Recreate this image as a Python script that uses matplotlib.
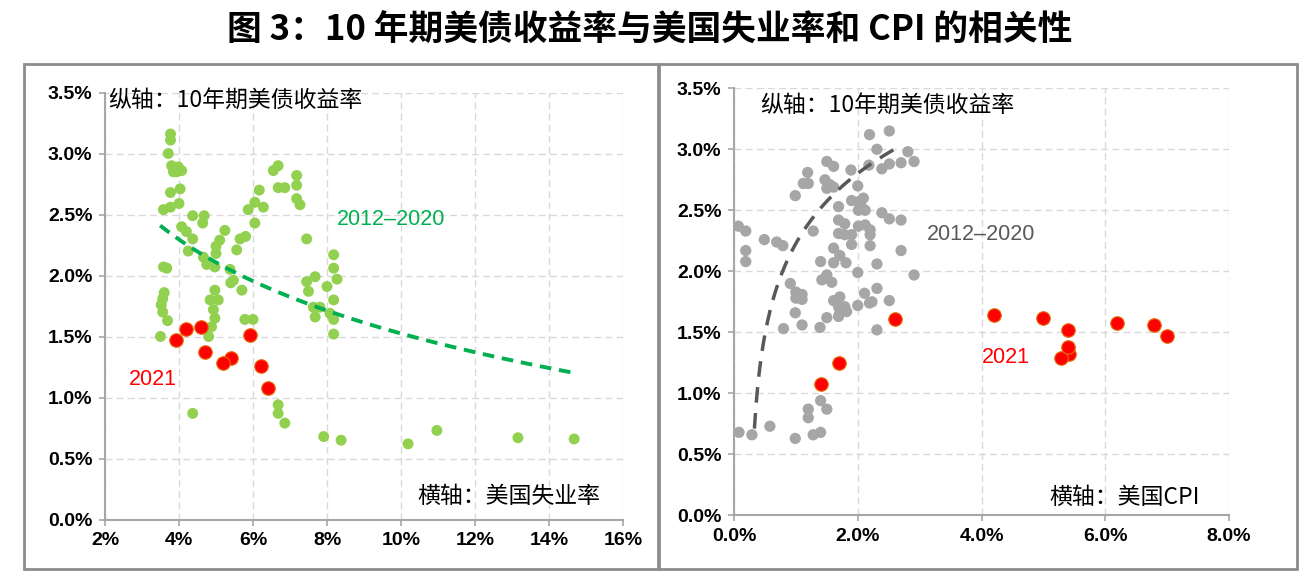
import numpy as np
import matplotlib
matplotlib.use("Agg")
import matplotlib.pyplot as plt
from matplotlib.patches import Rectangle
from matplotlib.ticker import FuncFormatter, MultipleLocator

plt.rcParams['font.family'] = ['Noto Sans CJK SC', 'DejaVu Sans']

# ---------------- data ----------------
# Left: unemployment rate (%) vs 10Y yield (%), 2012-2020
unemp_hist_x = [3.77, 3.77, 3.71, 3.80, 3.89, 3.98, 4.07, 3.85, 3.94, 4.03, 3.77, 3.77, 4.00, 3.58,
                4.37, 4.68, 4.64, 4.07, 4.20, 4.37, 4.25, 4.66, 4.75, 4.97, 5.00, 5.00, 5.10, 5.24,
                5.56, 5.65, 5.80, 5.38, 5.47, 5.40, 5.70, 5.87, 6.05, 6.17, 6.28, 6.05, 6.55, 6.68,
                6.68, 6.86, 7.18, 7.18, 7.18, 7.27, 7.45, 8.18, 8.18, 8.27, 8.00, 8.18, 8.18, 8.18,
                7.45, 7.68, 7.50, 7.63, 7.81, 7.68, 8.08, 3.58, 3.67, 3.60, 3.56, 3.52, 3.56, 3.69,
                3.50, 4.97, 4.84, 5.06, 4.93, 4.97, 4.88, 4.80, 5.78, 6.00, 4.37, 6.68, 6.68, 6.86,
                7.91, 8.38, 10.19, 10.97, 13.16, 14.68]
unemp_hist_y = [3.16, 3.11, 3.00, 2.90, 2.86, 2.89, 2.86, 2.85, 2.85, 2.71, 2.68, 2.56, 2.59, 2.54,
                2.49, 2.49, 2.43, 2.40, 2.36, 2.30, 2.20, 2.15, 2.09, 2.07, 2.18, 2.24, 2.29, 2.37,
                2.21, 2.30, 2.32, 2.05, 1.96, 1.94, 1.88, 2.54, 2.60, 2.70, 2.56, 2.43, 2.86, 2.90,
                2.72, 2.72, 2.82, 2.74, 2.63, 2.58, 2.30, 2.17, 2.06, 1.97, 1.91, 1.80, 1.64, 1.52,
                1.95, 1.99, 1.87, 1.74, 1.74, 1.66, 1.69, 2.07, 2.06, 1.86, 1.81, 1.76, 1.70, 1.63,
                1.50, 1.88, 1.80, 1.80, 1.72, 1.65, 1.58, 1.50, 1.64, 1.64, 0.87, 0.94, 0.87, 0.79,
                0.68, 0.65, 0.62, 0.73, 0.67, 0.66]
# 2021
unemp_2021_x = [6.40, 6.21, 5.92, 5.41, 5.18, 4.70, 4.59, 4.19, 3.92]
unemp_2021_y = [1.08, 1.26, 1.51, 1.32, 1.28, 1.37, 1.58, 1.56, 1.47]
# trend (logarithmic): y = a + b*ln(x)
unemp_trend_coef = (3.461, -0.841)
unemp_trend_range = (3.49, 14.6)

# Right: CPI (%) vs 10Y yield (%), 2012-2020
cpi_hist_x = [2.19, 2.51, 2.31, 2.81, 2.91, 2.70, 2.51, 2.39, 2.18, 1.89, 1.50, 1.61, 1.19, 1.12,
              1.20, 0.99, 1.47, 1.55, 1.50, 1.61, 2.00, 1.69, 1.90, 2.01, 2.09, 2.06, 2.12, 2.01,
              2.39, 2.51, 2.70, 0.07, 0.19, 0.49, 0.69, 0.79, 0.19, 0.19, 1.28, 1.69, 1.79, 1.69,
              1.79, 1.90, 2.01, 2.12, 2.20, 2.20, 1.90, 2.20, 2.70, 1.61, 1.71, 1.61, 1.81, 1.40,
              2.31, 2.00, 2.91, 1.50, 1.42, 1.58, 0.91, 1.00, 1.10, 1.00, 1.10, 2.11, 2.23, 2.31,
              2.51, 1.61, 1.71, 1.69, 1.79, 1.71, 1.82, 2.00, 0.99, 1.10, 1.39, 1.50, 2.31, 0.80,
              1.69, 2.19, 1.40, 1.50, 1.20, 1.20, 0.58, 0.08, 0.29, 0.99, 1.28, 1.40]
cpi_hist_y = [3.12, 3.15, 3.00, 2.98, 2.90, 2.89, 2.88, 2.84, 2.87, 2.83, 2.90, 2.86, 2.81, 2.72,
              2.72, 2.62, 2.75, 2.71, 2.68, 2.69, 2.70, 2.53, 2.58, 2.57, 2.60, 2.53, 2.50, 2.50,
              2.48, 2.43, 2.42, 2.37, 2.33, 2.26, 2.24, 2.21, 2.17, 2.08, 2.33, 2.42, 2.39, 2.31,
              2.30, 2.30, 2.37, 2.38, 2.34, 2.30, 2.22, 2.21, 2.17, 2.19, 2.13, 2.07, 2.07, 2.08,
              2.06, 1.99, 1.97, 1.97, 1.93, 1.91, 1.90, 1.83, 1.81, 1.78, 1.77, 1.82, 1.75, 1.86,
              1.76, 1.76, 1.79, 1.71, 1.71, 1.66, 1.67, 1.72, 1.66, 1.56, 1.54, 1.62, 1.52, 1.53,
              1.63, 1.74, 0.94, 0.87, 0.87, 0.80, 0.73, 0.68, 0.66, 0.63, 0.66, 0.68]
cpi_2021_x = [1.41, 1.70, 2.61, 4.20, 5.00, 5.39, 5.42, 5.29, 5.40, 6.19, 6.79, 7.00]
cpi_2021_y = [1.08, 1.25, 1.61, 1.64, 1.62, 1.52, 1.32, 1.29, 1.38, 1.58, 1.56, 1.47]
# trend (shifted log): y = a + b*ln(x - c)
cpi_trend_coef = (2.423, 0.678, 0.25)
cpi_trend_range = (0.33, 2.58)

title = "图 3：10 年期美债收益率与美国失业率和 CPI 的相关性"
ylabel_txt = "纵轴：10年期美债收益率"
xlabel_left = "横轴：美国失业率"
xlabel_right = "横轴：美国CPI"
hist_label = "2012–2020"
cur_label = "2021"

# ---------------- style ----------------
GREEN = "#92D050"
DGREEN = "#00B050"
GRAY = "#A6A6A6"
DGRAY = "#595959"
RED = "#FF0000"
AXC = "#A6A6A6"
GRIDC = "#D9D9D9"
LATIN = ['Liberation Sans', 'DejaVu Sans']

W, H = 1304, 582
fig = plt.figure(figsize=(W / 100, H / 100), dpi=100)


def fr(x0, y0, x1, y1):
    return [x0 / W, 1 - y1 / H, (x1 - x0) / W, (y1 - y0) / H]


def style_axes(ax):
    for s in ['top', 'right']:
        ax.spines[s].set_visible(False)
    for s in ['left', 'bottom']:
        ax.spines[s].set_color(AXC)
        ax.spines[s].set_linewidth(1.5)
    ax.grid(True, color=GRIDC, linestyle=(0, (5, 3)), linewidth=1.0)
    ax.set_axisbelow(True)
    ax.tick_params(direction='out', length=4, width=1.2, color=AXC, pad=5)


# Panel frames
for (x0, y0, x1, y1) in [(24, 64, 658, 569), (659, 64, 1297, 569)]:
    fig.patches.append(Rectangle((x0 / W, 1 - y1 / H), (x1 - x0) / W, (y1 - y0) / H,
                                 transform=fig.transFigure, fill=False,
                                 edgecolor="#8C8C8C", linewidth=2.0, zorder=0))

# ---------- left ----------
ax1 = fig.add_axes(fr(105, 92.5, 623, 519.5))
ax1.set_xlim(2, 16)
ax1.set_ylim(0, 3.5)
ax1.xaxis.set_major_locator(MultipleLocator(2))
ax1.yaxis.set_major_locator(MultipleLocator(0.5))
ax1.xaxis.set_major_formatter(FuncFormatter(lambda v, p: f"{v:.0f}%"))
ax1.yaxis.set_major_formatter(FuncFormatter(lambda v, p: f"{v:.1f}%"))
style_axes(ax1)
ax1.scatter(unemp_hist_x, unemp_hist_y, s=62, color=GREEN, edgecolors='none', zorder=3)
ax1.scatter(unemp_2021_x, unemp_2021_y, s=95, color=RED, edgecolors="#E46C0A",
            linewidths=0.8, zorder=4)
tx = np.linspace(unemp_trend_range[0], unemp_trend_range[1], 200)
ax1.plot(tx, unemp_trend_coef[0] + unemp_trend_coef[1] * np.log(tx), color=DGREEN,
         linewidth=2.8, linestyle=(0, (3, 2)), zorder=5)
ax1.text(0.006, 0.982, ylabel_txt, transform=ax1.transAxes, fontsize=16.5,
         ha='left', va='center', color='black', weight='medium')
ax1.text(0.956, 0.053, xlabel_left, transform=ax1.transAxes, fontsize=16.5,
         ha='right', va='center', color='black', weight='medium')
ax1.text(9.73, 2.46, hist_label, fontsize=15.5, color=DGREEN, ha='center', va='center',
         family=LATIN)
ax1.text(3.30, 1.15, cur_label, fontsize=15.5, color=RED, ha='center', va='center',
         family=LATIN)

# ---------- right ----------
ax2 = fig.add_axes(fr(734, 88.3, 1229, 515.3))
ax2.set_xlim(0, 8)
ax2.set_ylim(0, 3.5)
ax2.xaxis.set_major_locator(MultipleLocator(2))
ax2.yaxis.set_major_locator(MultipleLocator(0.5))
ax2.xaxis.set_major_formatter(FuncFormatter(lambda v, p: f"{v:.1f}%"))
ax2.yaxis.set_major_formatter(FuncFormatter(lambda v, p: f"{v:.1f}%"))
style_axes(ax2)
ax2.scatter(cpi_hist_x, cpi_hist_y, s=66, color=GRAY, edgecolors='none', zorder=3)
ax2.scatter(cpi_2021_x, cpi_2021_y, s=95, color=RED, edgecolors="#E46C0A",
            linewidths=0.8, zorder=4)
cx = np.linspace(cpi_trend_range[0], cpi_trend_range[1], 300)
a, b, c = cpi_trend_coef
ax2.plot(cx, a + b * np.log(cx - c), color=DGRAY, linewidth=2.5,
         linestyle=(0, (4.5, 3)), zorder=5)
ax2.text(0.053, 0.961, ylabel_txt, transform=ax2.transAxes, fontsize=16.5,
         ha='left', va='center', color='black', weight='medium')
ax2.text(0.941, 0.043, xlabel_right, transform=ax2.transAxes, fontsize=16.5,
         ha='right', va='center', color='black', weight='medium')
ax2.text(3.99, 2.30, hist_label, fontsize=15.5, color=DGRAY, ha='center', va='center',
         family=LATIN)
ax2.text(4.39, 1.29, cur_label, fontsize=15.5, color=RED, ha='center', va='center',
         family=LATIN)

for ax in (ax1, ax2):
    for lab in ax.get_xticklabels() + ax.get_yticklabels():
        lab.set_family(LATIN)
        lab.set_weight('bold')
        lab.set_fontsize(14)

fig.text(650 / W, 1 - 30 / H, title, fontsize=25, weight='bold', ha='center', va='center')

fig.savefig("out.png", dpi=100)
